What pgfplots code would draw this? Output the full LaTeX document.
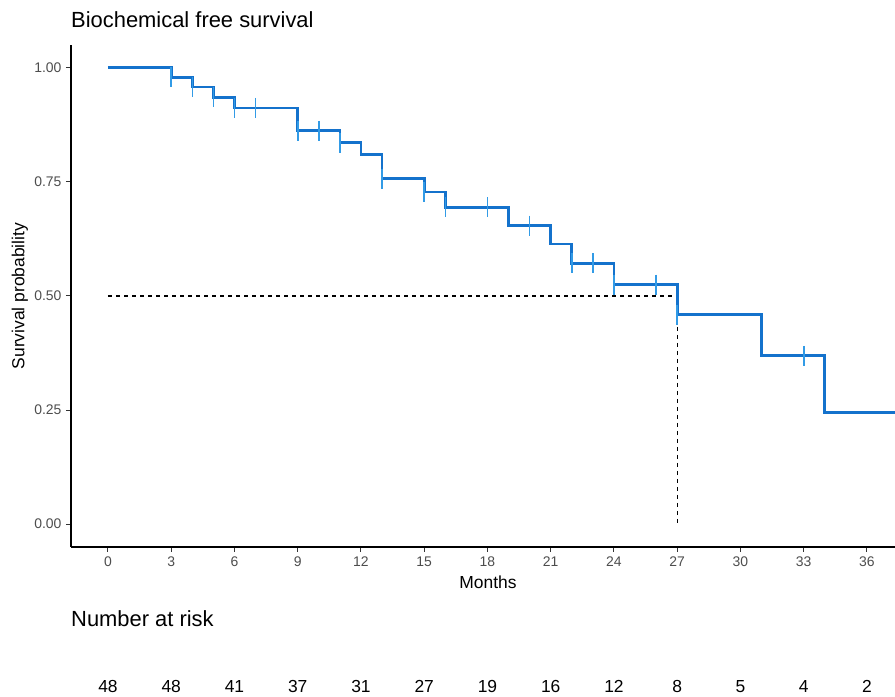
\documentclass[border=0pt]{standalone}
\usepackage{pgfplots}
\pgfplotsset{compat=1.18}
\usepackage{fontspec}
\setmainfont{Liberation Sans}
\definecolor{kmline}{RGB}{20,114,204}
\definecolor{kmcens}{RGB}{50,155,230}
\definecolor{ticklab}{RGB}{77,77,77}
\begin{document}
\begin{tikzpicture}
\useasboundingbox (0,0) rectangle (895bp,697bp);
\begin{axis}[
  at={(71bp,150bp)}, anchor=south west,
  scale only axis, width=824bp, height=502bp,
  xmin=-1.755, xmax=37.33, ymin=-0.05, ymax=1.05,
  axis lines=left, axis line style={-, line width=1.2bp, black},
  tick align=outside, major tick length=5bp,
  tick style={line width=1bp, black!80},
  xtick={0,3,...,36},
  xticklabels={0,3,6,9,12,15,18,21,24,27,30,33,36},
  ytick={0,0.25,0.5,0.75,1},
  yticklabels={0.00,0.25,0.50,0.75,1.00},
  /pgf/number format/assume math mode=true,
  ticklabel style={font=\fontsize{14}{16}\selectfont, text=ticklab},
  xticklabel style={yshift=-1bp},
  yticklabel style={xshift=-1bp},
  title={Biochemical free survival},
  title style={at={(axis description cs:0,1)}, anchor=base west, inner sep=0pt, yshift=12bp, font=\fontsize{22}{26}\selectfont},
  xlabel={Months},
  xlabel style={at={(axis description cs:0.506,0)}, anchor=center, yshift=-35bp, font=\fontsize{17.5}{21}\selectfont},
  ylabel={Survival probability},
  ylabel style={at={(axis description cs:-0.0619,0.5)}, anchor=center, font=\fontsize{17.5}{21}\selectfont},
  clip=false,
]
% median lines
\addplot[black, dashed, line width=1.2bp, dash pattern=on 4bp off 4bp] coordinates {(0,0.5) (27,0.5) (27,0)};
% censor marks
\addplot[only marks, mark=|, mark size=10bp, mark options={kmcens, line width=1.6bp}] table {
x y
3 0.979
4 0.958
5 0.935
6 0.912
7 0.912
9 0.862
10 0.862
11 0.836
13 0.757
15 0.728
16 0.694
18 0.694
20 0.654
22 0.572
23 0.572
24 0.525
26 0.525
27 0.459
33 0.369
};
% KM curve
\addplot[const plot, kmline, line width=2.8bp, line join=miter] table {
x y
0 1.000
3 0.979
4 0.958
5 0.935
6 0.912
9 0.862
11 0.836
12 0.810
13 0.757
15 0.728
16 0.694
19 0.654
21 0.614
22 0.572
24 0.525
27 0.459
31 0.369
34 0.245
37.33 0.245
};
\end{axis}
\node[anchor=base west, inner sep=0pt, font=\fontsize{22}{26}\selectfont] at (71bp,70bp) {Number at risk};
\begin{axis}[
  at={(71bp,0bp)}, anchor=south west,
  scale only axis, width=824bp, height=20bp,
  xmin=-1.755, xmax=37.33, ymin=0, ymax=1,
  hide axis, clip=false,
  nodes near coords, point meta=explicit symbolic,
  nodes near coords style={anchor=base, inner sep=0pt, font=\fontsize{17.5}{21}\selectfont, text=black},
]
\addplot[draw=none, mark=none] table[meta=n] {
x y n
0 0.22 48
3 0.22 48
6 0.22 41
9 0.22 37
12 0.22 31
15 0.22 27
18 0.22 19
21 0.22 16
24 0.22 12
27 0.22 8
30 0.22 5
33 0.22 4
36 0.22 2
};
\end{axis}
\end{tikzpicture}
\end{document}
